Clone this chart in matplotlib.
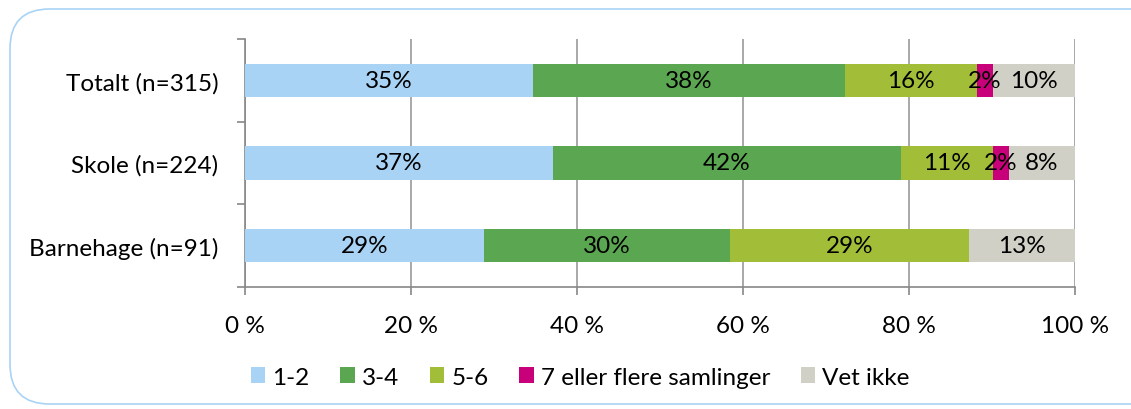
import matplotlib.pyplot as plt
import numpy as np
from matplotlib.patches import FancyBboxPatch

plt.rcParams['font.family'] = ['Lato', 'DejaVu Sans']

# groups (top to bottom) and answer categories
groups = ['Totalt (n=315)', 'Skole (n=224)', 'Barnehage (n=91)']
series = ['1-2', '3-4', '5-6', '7 eller flere samlinger', 'Vet ikke']
colors = ['#A9D3F5', '#5BA651', '#A2BE38', '#C8007A', '#D0D0C6']

# shares in percent, per series, in the order of groups
v12 = [34.7, 37.1, 28.8]
v34 = [37.6, 41.9, 29.6]
v56 = [15.9, 11.1, 28.8]
v7 = [1.9, 1.9, 0.0]
vet = [9.9, 8.0, 12.8]
labels = [['35%', '37%', '29%'], ['38%', '42%', '30%'], ['16%', '11%', '29%'],
          ['2%', '2%', ''], ['10%', '8%', '13%']]

data = [v12, v34, v56, v7, vet]
fs = 17.5

fig = plt.figure(figsize=(11.31, 4.10), dpi=100)
ax = fig.add_axes([0.2166, 0.298, 0.7339, 0.604])

y = np.arange(len(groups))
left = np.zeros(len(groups))
for vals, col, name, labs in zip(data, colors, series, labels):
    vals = np.array(vals)
    ax.barh(y, vals, left=left, height=0.4, color=col, label=name, zorder=3)
    for yi, l, v, t in zip(y, left, vals, labs):
        if t:
            ax.text(l + v / 2, yi, t, ha='center', va='center', fontsize=fs, zorder=4)
    left = left + vals

ax.set_xlim(0, 100)
ax.set_ylim(len(groups) - 0.5, -0.5)
ax.set_xticks(np.arange(0, 101, 20))
ax.set_xticklabels(['%d %%' % v for v in range(0, 101, 20)], fontsize=fs)
ax.set_yticks(y)
ax.set_yticklabels(groups, fontsize=fs)
ax.set_yticks(np.arange(-0.5, len(groups), 1), minor=True)
ax.tick_params(axis='y', which='major', length=0, pad=19)
ax.tick_params(axis='y', which='minor', length=6, color='#888888', width=1.2)
ax.tick_params(axis='x', length=6, color='#888888', width=1.2, pad=14)
ax.grid(axis='x', color='#999999', linewidth=1.2, zorder=0)
for s in ['top', 'right']:
    ax.spines[s].set_visible(False)
for s in ['left', 'bottom']:
    ax.spines[s].set_color('#888888')
    ax.spines[s].set_linewidth(1.2)

ax.legend(loc='center', bbox_to_anchor=(0.513, 0.078), bbox_transform=fig.transFigure,
          ncol=5, frameon=False, fontsize=fs, handlelength=0.6, handleheight=0.6,
          handletextpad=0.3, columnspacing=1.25)

border = FancyBboxPatch((10 / 1131, 5 / 410), 1.05, 395 / 410,
                        boxstyle='round,pad=0,rounding_size=0.035',
                        transform=fig.transFigure, fill=False,
                        edgecolor='#A9D3F5', linewidth=1.2, mutation_aspect=1131 / 410)
fig.patches.append(border)

fig.savefig('out.png', dpi=100)
